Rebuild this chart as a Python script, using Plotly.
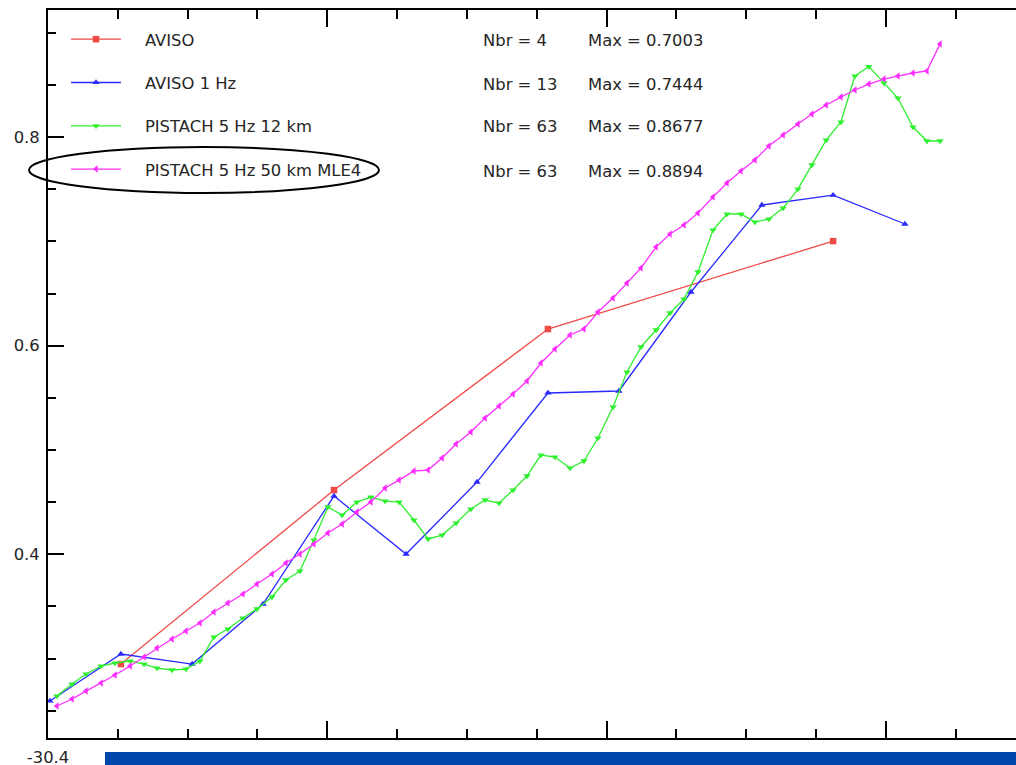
import plotly.graph_objects as go

# ---------------- data ----------------
series_names = ["AVISO", "AVISO 1 Hz", "PISTACH 5 Hz 12 km", "PISTACH 5 Hz 50 km MLE4"]

aviso_x = [-30.3739, -30.2976, -30.2210, -30.1189]
aviso_y = [0.2948, 0.4616, 0.6160, 0.7003]

aviso1hz_x = [-30.3993, -30.3739, -30.3484, -30.3230, -30.2976, -30.2718, -30.2464,
              -30.2210, -30.1956, -30.1698, -30.1444, -30.1189, -30.0932]
aviso1hz_y = [0.2594, 0.3044, 0.2948, 0.3523, 0.4559, 0.4003, 0.4693,
              0.5547, 0.5566, 0.6515, 0.7349, 0.7444, 0.7167]

pistach_x = [-30.3968, -30.3914, -30.3864, -30.3810, -30.3760, -30.3706, -30.3656, -30.3610,
             -30.3556, -30.3506, -30.3456, -30.3406, -30.3356, -30.3302, -30.3252, -30.3198,
             -30.3148, -30.3098, -30.3048, -30.2998, -30.2947, -30.2894, -30.2844, -30.2793,
             -30.2743, -30.2690, -30.2639, -30.2589, -30.2539, -30.2486, -30.2435, -30.2385,
             -30.2335, -30.2285, -30.2235, -30.2185, -30.2131, -30.2081, -30.2031, -30.1977,
             -30.1927, -30.1877, -30.1823, -30.1773, -30.1723, -30.1673, -30.1619, -30.1569,
             -30.1519, -30.1469, -30.1419, -30.1368, -30.1315, -30.1265, -30.1214, -30.1161,
             -30.1111, -30.1061, -30.1007, -30.0957, -30.0903, -30.0853, -30.0806]

pistach12_y = [0.2641, 0.2756, 0.2852, 0.2929, 0.2958, 0.2977, 0.2948, 0.2910,
               0.2891, 0.2900, 0.2977, 0.3207, 0.3284, 0.3389, 0.3476, 0.3591,
               0.3754, 0.3840, 0.4137, 0.4454, 0.4377, 0.4501, 0.4549, 0.4511,
               0.4501, 0.4329, 0.4147, 0.4185, 0.4300, 0.4434, 0.4521, 0.4492,
               0.4616, 0.4751, 0.4952, 0.4933, 0.4827, 0.4895, 0.5115, 0.5412,
               0.5748, 0.5988, 0.6151, 0.6314, 0.6448, 0.6707, 0.7109, 0.7263,
               0.7263, 0.7186, 0.7215, 0.7320, 0.7502, 0.7733, 0.7972, 0.8145,
               0.8586, 0.8677, 0.8519, 0.8375, 0.8097, 0.7963, 0.7963]

pistach50_y = [0.2546, 0.2613, 0.2689, 0.2766, 0.2843, 0.2929, 0.3015, 0.3102,
               0.3188, 0.3265, 0.3341, 0.3447, 0.3533, 0.3619, 0.3715, 0.3811,
               0.3917, 0.4003, 0.4099, 0.4204, 0.4291, 0.4406, 0.4501, 0.4636,
               0.4712, 0.4799, 0.4808, 0.4923, 0.5058, 0.5173, 0.5307, 0.5422,
               0.5537, 0.5662, 0.5834, 0.5968, 0.6103, 0.6160, 0.6323, 0.6457,
               0.6601, 0.6745, 0.6946, 0.7071, 0.7157, 0.7272, 0.7426, 0.7560,
               0.7675, 0.7780, 0.7915, 0.8020, 0.8126, 0.8221, 0.8308, 0.8384,
               0.8452, 0.8509, 0.8557, 0.8586, 0.8615, 0.8634, 0.8894]

x_major_ticks = [-30.4, -30.3, -30.2, -30.1]
x_major_labels = ["-30.4", "", "", ""]
y_major_ticks = [0.4, 0.6, 0.8]
y_major_labels = ["0.4", "0.6", "0.8"]

# ---------------- style ----------------
colors = ["#f04a48", "#2a2aff", "#2ef02e", "#ff2eff"]
symbols = ["square", "triangle-up", "triangle-down", "triangle-left"]
FONT = "DejaVu Sans"
FS = 16.4
TXT = "#262626"
FIG_W, FIG_H = 1016, 765
PL, PT, PW, PH = 48, 10, 968, 728   # plot area in page pixels
PAD = "\u00a0\u00a0\u00a0\u2009"


def px_x(p):
    return (p - PL) / PW


def px_y(p):
    return 1 - (p - PT) / PH


xs = [aviso_x, aviso1hz_x, pistach_x, pistach_x]
ys = [aviso_y, aviso1hz_y, pistach12_y, pistach50_y]

fig = go.Figure()
for i, (name, x, y) in enumerate(zip(series_names, xs, ys)):
    fig.add_trace(go.Scatter(
        x=x, y=y, name=PAD + name, mode="lines+markers",
        line=dict(color=colors[i], width=1.3),
        marker=dict(symbol=symbols[i], size=6.5, color=colors[i]),
        legendgroup=f"g{i}",
    ))

# Nbr / Max columns
row_y_px = [41, 85, 127, 171]
for i, (name, y) in enumerate(zip(series_names, ys)):
    yy = px_y(row_y_px[i])
    fig.add_annotation(text=f"Nbr = {len(y)}", xref="paper", yref="paper",
                       x=px_x(481), y=yy, xanchor="left", yanchor="middle",
                       showarrow=False, font=dict(family=FONT, size=FS, color=TXT))
    fig.add_annotation(text=f"Max = {max(y):.4f}", xref="paper", yref="paper",
                       x=px_x(586), y=yy, xanchor="left", yanchor="middle",
                       showarrow=False, font=dict(family=FONT, size=FS, color=TXT))

# ellipse around last legend entry
fig.add_shape(type="circle", xref="paper", yref="paper",
              x0=px_x(29), x1=px_x(379), y0=px_y(193), y1=px_y(147),
              line=dict(color="black", width=2))
# blue bar at bottom
fig.add_shape(type="rect", xref="paper", yref="paper",
              x0=px_x(105), x1=1.0, y0=px_y(766), y1=px_y(752),
              line=dict(width=0), fillcolor="#0047ab", layer="above")

fig.update_layout(
    width=FIG_W, height=FIG_H,
    margin=dict(l=PL, r=0, t=PT, b=FIG_H - PT - PH, autoexpand=False),
    paper_bgcolor="white", plot_bgcolor="white",
    font=dict(family=FONT, size=FS, color=TXT),
    showlegend=True,
    legend=dict(xref="paper", yref="paper", x=px_x(66), y=px_y(22),
                xanchor="left", yanchor="top", bgcolor="rgba(0,0,0,0)",
                font=dict(family=FONT, size=FS, color=TXT),
                itemwidth=50, tracegroupgap=19, traceorder="grouped"),
    xaxis=dict(range=[-30.4, -30.4 + 968 / 2793], showgrid=False, zeroline=False,
               showline=True, linecolor="black", linewidth=2, mirror="ticks",
               tickmode="array", tickvals=x_major_ticks, ticktext=x_major_labels,
               ticks="inside", ticklen=17, tickwidth=2, tickcolor="black",
               ticklabelstandoff=3,
               minor=dict(tick0=-30.4, dtick=0.025, ticks="inside", ticklen=9,
                          tickwidth=2, tickcolor="black"),
               tickfont=dict(family=FONT, size=FS, color=TXT)),
    yaxis=dict(range=[0.2239, 0.9219], showgrid=False, zeroline=False,
               showline=True, linecolor="black", linewidth=2, mirror=False,
               tickmode="array", tickvals=y_major_ticks, ticktext=y_major_labels,
               ticks="inside", ticklen=16, tickwidth=2, tickcolor="black",
               ticklabelstandoff=3,
               minor=dict(tick0=0.2, dtick=0.05, ticks="inside", ticklen=8,
                          tickwidth=2, tickcolor="black"),
               tickfont=dict(family=FONT, size=FS, color=TXT)),
    yaxis2=dict(overlaying="y", side="right", anchor="x", matches="y",
                showgrid=False, zeroline=False, showline=False,
                tickmode="array", tickvals=y_major_ticks, showticklabels=False,
                ticks="inside", ticklen=6, tickwidth=2, tickcolor="black"),
)

fig.write_html("out.html",
               config={"displayModeBar": False},
               post_script="document.body.style.margin='0';"
                           "document.body.style.overflow='hidden';")
